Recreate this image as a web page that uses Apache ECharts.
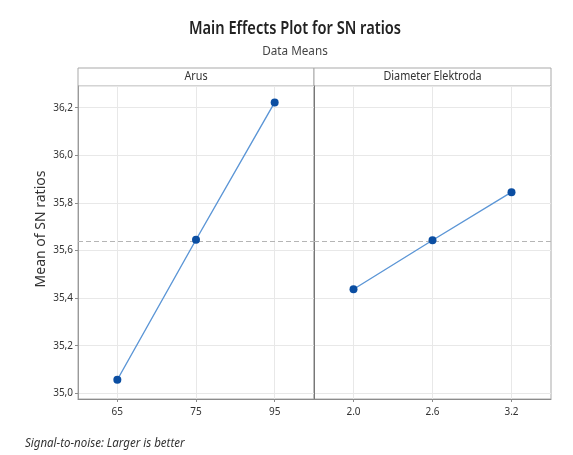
<!DOCTYPE html>
<html><head><meta charset="utf-8">
<script src="https://cdn.jsdelivr.net/npm/echarts@6/dist/echarts.min.js"></script>
<style>html,body{margin:0;padding:0;background:#fff}#c{width:573px;height:455px}</style>
</head><body><div id="c"></div>
<script>
// ---- data ----
const arusLevels = ['65', '75', '95'];
const arusMeans = [35.057, 35.645, 36.222];
const diaLevels = ['2.0', '2.6', '3.2'];
const diaMeans = [35.437, 35.643, 35.845];
const overallMean = 35.641;
const panelTitles = ['Arus', 'Diameter Elektroda'];
const yMin = 34.976, yMax = 36.291;

// ---- layout ----
const FONT = 'Noto Sans';
const topY = 86, headerH = 18, plotH = 313;
const g1 = {left: 78, width: 236};
const g2 = {left: 314, width: 237};
const gridLineColor = '#e8e8e8';
const borderColor = '#a9a9a9';
const lineBlue = '#5c96d6';
const dotBlue = '#0b4ea2';

const chart = echarts.init(document.getElementById('c'), null, {renderer: 'canvas'});

function xAx(idx, data) {
  return {
    type: 'category', gridIndex: idx, data: data, boundaryGap: true,
    axisLine: {show: true, lineStyle: {color: '#8c8c8c', width: 1}},
    axisTick: {show: true, alignWithLabel: true, length: 3, lineStyle: {color: '#8c8c8c'}},
    axisLabel: {fontFamily: FONT, fontSize: 10, color: '#333', margin: 8},
    splitLine: {show: false}
  };
}
function yAx(idx, showLabels) {
  return {
    type: 'value', gridIndex: idx, min: yMin, max: yMax, splitNumber: 7,
    axisLine: {show: true, lineStyle: {color: showLabels ? '#9a9a9a' : '#777', width: 1}},
    axisTick: {show: showLabels, length: 3, lineStyle: {color: '#8c8c8c'}},
    axisLabel: {
      show: showLabels, fontFamily: FONT, fontSize: 10, color: '#333', margin: 5,
      showMinLabel: false, showMaxLabel: false,
      formatter: v => v.toFixed(1).replace('.', ',')
    },
    splitLine: {show: true, lineStyle: {color: gridLineColor, width: 1}}
  };
}
function mainSeries(idx, data) {
  return {
    type: 'line', xAxisIndex: idx, yAxisIndex: idx, data: data, z: 5,
    symbol: 'circle', symbolSize: 8,
    lineStyle: {color: lineBlue, width: 1.4},
    itemStyle: {color: dotBlue},
    animation: false
  };
}
function guideSeries(idx, cats) {
  return {
    type: 'line', xAxisIndex: idx, yAxisIndex: idx, data: [], z: 1, silent: true,
    markLine: {
      silent: true, symbol: 'none', animation: false,
      label: {show: false},
      data: cats.map(c => ({xAxis: c, lineStyle: {color: gridLineColor, type: 'solid', width: 1}}))
        .concat([{yAxis: overallMean, lineStyle: {color: '#b5b5b5', type: [5, 3], width: 1.2}}])
    }
  };
}

const option = {
  animation: false,
  backgroundColor: '#fff',
  grid: [
    {left: g1.left, top: topY, width: g1.width, height: plotH, show: true, borderColor: borderColor, borderWidth: 1, backgroundColor: '#fff'},
    {left: g2.left, top: topY, width: g2.width, height: plotH, show: true, borderColor: borderColor, borderWidth: 1, backgroundColor: '#fff'}
  ],
  xAxis: [xAx(0, arusLevels), xAx(1, diaLevels)],
  yAxis: [yAx(0, true), yAx(1, false)],
  series: [
    guideSeries(0, arusLevels), guideSeries(1, diaLevels),
    mainSeries(0, arusMeans), mainSeries(1, diaMeans)
  ],
  graphic: [
    {type: 'text', x: 295, y: 29, scaleX: 0.86, style: {text: 'Main Effects Plot for SN ratios', fontFamily: FONT, fontSize: 17, fontWeight: 600, fill: '#222', align: 'center', verticalAlign: 'middle'}},
    {type: 'rect', shape: {x: g1.left, y: topY - headerH, width: g1.width, height: headerH}, style: {fill: '#fff', stroke: borderColor, lineWidth: 1}},
    {type: 'rect', shape: {x: g2.left, y: topY - headerH, width: g2.width, height: headerH}, style: {fill: '#fff', stroke: borderColor, lineWidth: 1}},
    {type: 'text', x: 295, y: 51, scaleX: 0.9, style: {text: 'Data Means', fontFamily: FONT, fontSize: 13, fill: '#444', align: 'center', verticalAlign: 'middle'}},
    {type: 'text', x: g1.left + g1.width / 2, y: topY - headerH / 2, scaleX: 0.9, style: {text: panelTitles[0], fontFamily: FONT, fontSize: 12, fill: '#333', align: 'center', verticalAlign: 'middle'}},
    {type: 'text', x: g2.left + g2.width / 2, y: topY - headerH / 2, scaleX: 0.9, style: {text: panelTitles[1], fontFamily: FONT, fontSize: 12, fill: '#333', align: 'center', verticalAlign: 'middle'}},
    {type: 'text', x: 41, y: 229, rotation: Math.PI / 2, style: {text: 'Mean of SN ratios', fontFamily: FONT, fontSize: 14, fill: '#333', align: 'center', verticalAlign: 'middle'}},
    {type: 'text', x: 25, y: 443, scaleX: 0.92, style: {text: 'Signal-to-noise: Larger is better', fontFamily: FONT, fontSize: 12.5, fontStyle: 'italic', fill: '#333', align: 'left', verticalAlign: 'middle'}}
  ]
};
chart.setOption(option);
</script>
</body></html>
